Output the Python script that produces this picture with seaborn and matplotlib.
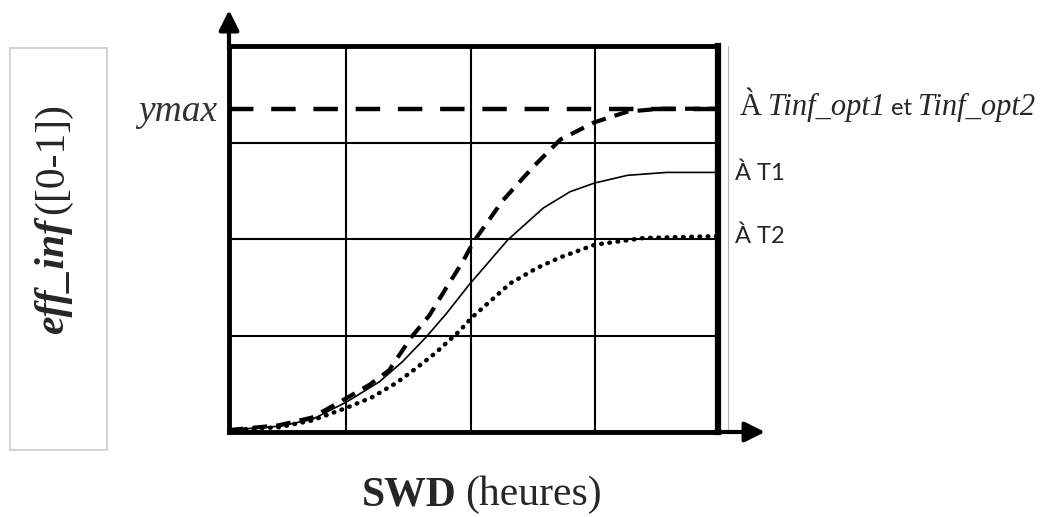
import matplotlib
matplotlib.use("Agg")
import matplotlib.pyplot as plt
import seaborn as sns
from matplotlib.patches import Rectangle

# curves (x in arbitrary hours units 0-4, y in grid units 0-4)
x_opt = [0, 0.41, 0.68, 0.96, 1.15, 1.31, 1.49, 1.64, 1.78, 1.91, 2.00, 2.24, 2.49, 2.71, 2.99, 3.26, 3.53, 4.0]
y_opt = [0.02, 0.07, 0.15, 0.35, 0.49, 0.64, 0.98, 1.21, 1.50, 1.76, 1.97, 2.40, 2.75, 3.03, 3.21, 3.32, 3.35, 3.35]

x_t1 = [0, 0.41, 0.68, 0.96, 1.23, 1.42, 1.61, 1.78, 1.96, 2.28, 2.57, 2.79, 2.99, 3.26, 3.58, 4.0]
y_t1 = [0.02, 0.06, 0.13, 0.31, 0.52, 0.73, 0.98, 1.23, 1.52, 1.99, 2.32, 2.49, 2.58, 2.66, 2.69, 2.69]

x_t2 = [0, 0.41, 0.68, 0.96, 1.17, 1.37, 1.53, 1.69, 1.88, 1.99, 2.30, 2.52, 2.71, 2.99, 3.39, 4.0]
y_t2 = [0.02, 0.05, 0.12, 0.25, 0.36, 0.51, 0.66, 0.82, 1.04, 1.19, 1.54, 1.70, 1.81, 1.94, 2.01, 2.03]

ymax = 3.35
grid_x = [0.96, 1.98, 2.99]
grid_y = [1, 2, 3]

sns.set_style("white")
plt.rcParams['font.family'] = ['Liberation Serif', 'DejaVu Serif']

W, H = 1047, 517
fig = plt.figure(figsize=(W / 100, H / 100), dpi=100)
ax = fig.add_axes([229 / W, 85 / H, 489 / W, 386 / H])

ax.set_xlim(0, 4)
ax.set_ylim(0, 4)
ax.set_xticks(grid_x)
ax.set_yticks(grid_y)
ax.set_xticklabels([])
ax.set_yticklabels([])
ax.tick_params(length=0)
ax.grid(True, color="black", lw=1.5)
ax.set_axisbelow(True)

for s in ["left", "bottom", "top"]:
    ax.spines[s].set_linewidth(3.5)
    ax.spines[s].set_color("black")
ax.spines["right"].set_linewidth(4.5)
ax.spines["right"].set_color("black")

# ymax reference line
ax.axhline(ymax, color="black", lw=3.2, linestyle=(0, (5.5, 4)), zorder=3)

sns.lineplot(x=x_opt, y=y_opt, ax=ax, color="black", lw=3, linestyle=(0, (3.5, 2.2)), sort=False, zorder=4)
sns.lineplot(x=x_t1, y=y_t1, ax=ax, color="black", lw=1.2, sort=False, zorder=4)
sns.lineplot(x=x_t2, y=y_t2, ax=ax, color="black", lw=3.2, linestyle=(0, (0.15, 1.7)), sort=False, zorder=4)
ax.lines[-1].set_dash_capstyle("round")

# thin gray border right of the frame
ax.plot([1.02, 1.02], [0, 1], transform=ax.transAxes, color="#b0b0b0", lw=0.8, clip_on=False)

# axis arrows
arrow = dict(arrowstyle="-|>", color="black", lw=3, mutation_scale=30, shrinkA=0, shrinkB=0)
ax.annotate("", xy=(0, 1.093), xytext=(0, 0.99), xycoords="axes fraction", arrowprops=arrow)
ax.annotate("", xy=(1.096, 0), xytext=(0.99, 0), xycoords="axes fraction", arrowprops=arrow)

renderer = fig.canvas.get_renderer()


def write_parts(x, y, parts, rotation=0):
    # lay text pieces one after another, in pixels
    for text, kw, gap in parts:
        t = fig.text(x / W, 1 - y / H, text, rotation=rotation, rotation_mode="anchor",
                     ha="left", va="baseline", **kw)
        bb = t.get_window_extent(renderer)
        if rotation == 90:
            y -= bb.height + gap
        else:
            x += bb.width + gap


serif = dict(family=["Liberation Serif"])
sans = dict(family=["Lato", "Liberation Sans"])

# y label box and text
fig.add_artist(Rectangle((10 / W, 67 / H), 97 / W, 402 / H, transform=fig.transFigure,
                         fill=False, ec="#d4d4d4", lw=1.5))
write_parts(63, 334, [
    ("eff_inf", dict(fontsize=30, fontweight="bold", fontstyle="italic", **serif), 5),
    ("([0-1])", dict(fontsize=30, **serif), 0),
], rotation=90)

# x label
write_parts(362, 505, [
    ("SWD", dict(fontsize=30, fontweight="bold", **serif), 8),
    ("(heures)", dict(fontsize=30, **serif), 0),
])

# ymax label
fig.text(217 / W, 1 - 121 / H, "ymax", fontsize=27, fontstyle="italic", color="#333333",
         ha="right", va="baseline", **serif)

# curve labels
write_parts(740, 115, [
    ("À", dict(fontsize=22, **serif), 6),
    ("Tinf_opt1", dict(fontsize=22, fontstyle="italic", **serif), 6),
    ("et", dict(fontsize=17, **sans), 6),
    ("Tinf_opt2", dict(fontsize=22, fontstyle="italic", **serif), 0),
])
write_parts(735, 180, [("À T1", dict(fontsize=17, **sans), 0)])
write_parts(735, 243, [("À T2", dict(fontsize=17, **sans), 0)])

fig.savefig("out.png", dpi=100)
